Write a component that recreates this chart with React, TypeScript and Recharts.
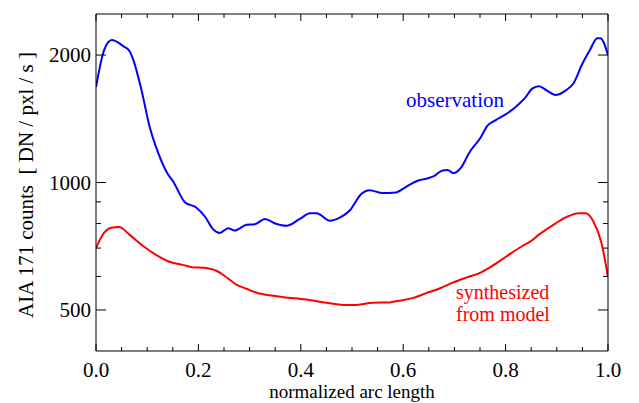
import React from 'react';
import { LineChart, Line, XAxis, YAxis } from 'recharts';

// arc position (0..1) and counts
const obsX = [
  0, 0.016, 0.031, 0.053, 0.065, 0.073, 0.089, 0.105, 0.122, 0.139, 0.151, 0.174, 0.195, 0.213,
  0.229, 0.242, 0.258, 0.271, 0.294, 0.31, 0.33, 0.35, 0.372, 0.398, 0.418, 0.431, 0.457, 0.477,
  0.496, 0.518, 0.534, 0.56, 0.586, 0.596, 0.609, 0.631, 0.645, 0.661, 0.677, 0.687, 0.698, 0.713,
  0.729, 0.751, 0.764, 0.78, 0.8, 0.819, 0.838, 0.852, 0.865, 0.881, 0.897, 0.917, 0.933, 0.949,
  0.965, 0.979, 0.985, 1.0,
];
const obsCounts = [
  1680, 2058, 2170, 2100, 2047, 1946, 1650, 1350, 1170, 1053, 1004, 897, 874, 830,
  775, 760, 780, 770, 795, 797, 820, 800, 790, 820, 846, 846, 812, 827,
  860, 939, 959, 944, 947, 961, 982, 1012, 1021, 1037, 1068, 1070, 1052, 1084,
  1176, 1276, 1358, 1402, 1448, 1506, 1584, 1666, 1688, 1648, 1609, 1648, 1718, 1897,
  2058, 2192, 2192, 2000,
];

const modelX = [
  0, 0.016, 0.03, 0.045, 0.066, 0.092, 0.118, 0.148, 0.169, 0.188, 0.21, 0.236, 0.25, 0.275,
  0.294, 0.314, 0.346, 0.366, 0.41, 0.45, 0.483, 0.509, 0.54, 0.573, 0.592, 0.62, 0.645, 0.671,
  0.697, 0.723, 0.75, 0.767, 0.8, 0.832, 0.848, 0.865, 0.897, 0.92, 0.943, 0.956, 0.972, 0.987, 1.0,
];
const modelCounts = [
  700, 761, 782, 785, 752, 708, 674, 647, 639, 631, 629, 618, 603, 573,
  561, 549, 540, 536, 529, 520, 514, 514, 520, 521, 526, 534, 548, 562,
  580, 596, 612, 628, 667, 707, 725, 753, 800, 830, 846, 846, 807, 722, 598,
];

const xTicks = Array.from({ length: 21 }, (_, i) => i / 20);
const xLabeled = [0, 0.2, 0.4, 0.6, 0.8, 1];
const yTicks = [500, 600, 700, 800, 900, 1000, 2000];
const yLabeled = [500, 1000, 2000];

const obsData = obsX.map((x, i) => ({ x, v: obsCounts[i] }));
const modelData = modelX.map((x, i) => ({ x, v: modelCounts[i] }));

const FONT = '"Liberation Serif", "Times New Roman", "DejaVu Serif", serif';

const isMajorX = (v: number) => xLabeled.some((t) => Math.abs(t - v) < 1e-6);

const BottomTick = ({ x, y, payload }: any) => {
  const major = isMajorX(payload.value);
  return (
    <g>
      <line x1={x} x2={x} y1={y} y2={y - (major ? 7 : 4)} stroke="#000" />
      {major && (
        <text x={x} y={y + 26} textAnchor="middle" fill="#000" style={{ fontFamily: FONT, fontSize: 21 }}>
          {payload.value.toFixed(1)}
        </text>
      )}
    </g>
  );
};

const TopTick = ({ x, y, payload }: any) => {
  const major = isMajorX(payload.value);
  return <line x1={x} x2={x} y1={y} y2={y + (major ? 7 : 4)} stroke="#000" />;
};

const LeftTick = ({ x, y, payload }: any) => {
  const major = yLabeled.includes(payload.value);
  return (
    <g>
      <line x1={x} x2={x + (major ? 10 : 5)} y1={y} y2={y} stroke="#000" />
      {major && (
        <text x={x - 5} y={y} dy="0.35em" textAnchor="end" fill="#000" style={{ fontFamily: FONT, fontSize: 21 }}>
          {payload.value}
        </text>
      )}
    </g>
  );
};

const RightTick = ({ x, y, payload }: any) => {
  const major = yLabeled.includes(payload.value);
  return <line x1={x} x2={x - (major ? 10 : 5)} y1={y} y2={y} stroke="#000" />;
};

export default function App() {
  return (
    <div style={{ position: 'absolute', left: 0, top: 0, width: 639, height: 403, background: '#fff' }}>
      <LineChart width={639} height={403} margin={{ top: 13, right: 30, left: 36, bottom: 22 }}>
        <XAxis
          xAxisId="b"
          dataKey="x"
          type="number"
          domain={[0, 1]}
          ticks={xTicks}
          interval={0}
          height={30}
          tickSize={0}
          tickMargin={0}
          tick={<BottomTick />}
          axisLine={{ stroke: '#000' }}
          allowDataOverflow
        />
        <XAxis
          xAxisId="t"
          orientation="top"
          dataKey="x"
          type="number"
          domain={[0, 1]}
          ticks={xTicks}
          interval={0}
          height={1}
          tickSize={0}
          tickMargin={0}
          tick={<TopTick />}
          axisLine={{ stroke: '#000' }}
          allowDataOverflow
        />
        <YAxis
          yAxisId="l"
          scale="log"
          type="number"
          domain={[400, 2500]}
          ticks={yTicks}
          interval={0}
          width={60}
          tickSize={0}
          tickMargin={0}
          tick={<LeftTick />}
          axisLine={{ stroke: '#000' }}
          allowDataOverflow
        />
        <YAxis
          yAxisId="r"
          orientation="right"
          scale="log"
          type="number"
          domain={[400, 2500]}
          ticks={yTicks}
          interval={0}
          width={1}
          tickSize={0}
          tickMargin={0}
          tick={<RightTick />}
          axisLine={{ stroke: '#000' }}
          allowDataOverflow
        />
        {/* invisible copy so the mirrored top/right axes get drawn */}
        <Line
          xAxisId="t"
          yAxisId="r"
          data={modelData}
          dataKey="v"
          stroke="none"
          dot={false}
          activeDot={false}
          isAnimationActive={false}
        />
        <Line
          xAxisId="b"
          yAxisId="l"
          data={obsData}
          dataKey="v"
          type="monotone"
          stroke="#0000ff"
          strokeWidth={2}
          dot={false}
          isAnimationActive={false}
        />
        <Line
          xAxisId="b"
          yAxisId="l"
          data={modelData}
          dataKey="v"
          type="monotone"
          stroke="#ff0000"
          strokeWidth={2}
          dot={false}
          isAnimationActive={false}
        />
      </LineChart>
      <svg
        width={639}
        height={403}
        style={{ position: 'absolute', left: 0, top: 0, pointerEvents: 'none', fontFamily: FONT, fontSize: 21 }}
      >
        <text transform="translate(32.5,185) rotate(-90)" textAnchor="middle" style={{ whiteSpace: 'pre' }} fill="#000">
          {'AIA 171 counts  [ DN / pxl / s ]'}
        </text>
        <text x={352} y={398} textAnchor="middle" fill="#000" style={{ fontSize: 19 }}>
          normalized arc length
        </text>
        <text x={406} y={107} fill="#0000ff">
          observation
        </text>
        <text x={456} y={299} fill="#ff0000" style={{ fontSize: 20 }}>
          synthesized
        </text>
        <text x={456} y={321} fill="#ff0000" style={{ fontSize: 20 }}>
          from model
        </text>
      </svg>
    </div>
  );
}
